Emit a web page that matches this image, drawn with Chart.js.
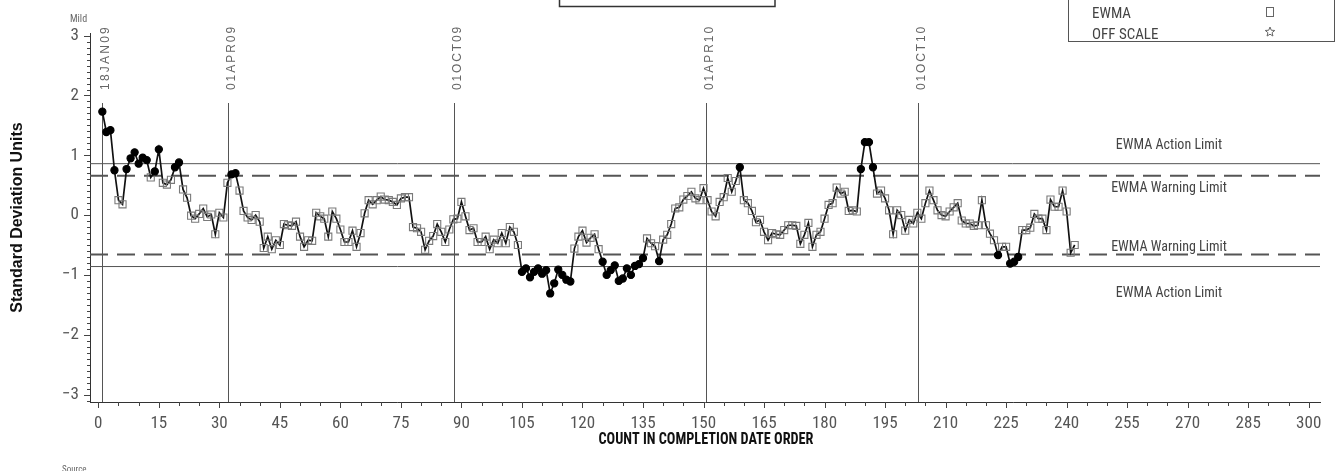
<!DOCTYPE html>
<html><head><meta charset="utf-8">
<script src="https://cdn.jsdelivr.net/npm/chart.js@4.4.0/dist/chart.umd.min.js"></script>
<style>html,body{margin:0;padding:0;background:#fff;}#wrap{width:1338px;height:471px;}</style>
</head><body><div id="wrap"><canvas id="c" width="1338" height="471"></canvas></div>
<script>
// ---------- data ----------
const ewmaValues = [1.73,1.39,1.42,0.75,0.25,0.18,0.77,0.95,1.05,0.86,
0.96,0.92,0.63,0.73,1.10,0.54,0.51,0.59,0.80,0.88,
0.43,0.29,-0.01,-0.06,0.02,0.11,-0.03,0.01,-0.32,0.04,
-0.04,0.54,0.68,0.70,0.41,0.07,-0.04,-0.08,0.00,-0.11,
-0.55,-0.36,-0.57,-0.42,-0.50,-0.15,-0.17,-0.18,-0.11,-0.36,
-0.53,-0.42,-0.43,0.04,-0.02,-0.06,-0.36,0.06,-0.06,-0.24,
-0.45,-0.45,-0.26,-0.53,-0.30,0.03,0.25,0.18,0.25,0.31,
0.26,0.25,0.22,0.17,0.28,0.30,0.30,-0.20,-0.22,-0.28,
-0.58,-0.43,-0.35,-0.15,-0.28,-0.45,-0.24,-0.07,-0.06,0.22,
-0.02,-0.25,-0.22,-0.45,-0.45,-0.36,-0.57,-0.41,-0.47,-0.30,
-0.47,-0.20,-0.28,-0.50,-0.95,-0.89,-1.04,-0.95,-0.89,-0.98,
-0.92,-1.31,-1.14,-0.91,-1.00,-1.08,-1.11,-0.56,-0.36,-0.26,
-0.46,-0.38,-0.32,-0.57,-0.78,-1.00,-0.92,-0.84,-1.10,-1.06,
-0.89,-1.00,-0.85,-0.82,-0.72,-0.39,-0.47,-0.52,-0.77,-0.41,
-0.33,-0.15,0.11,0.13,0.26,0.32,0.39,0.28,0.25,0.45,
0.25,0.06,-0.02,0.22,0.30,0.62,0.39,0.57,0.80,0.25,
0.20,0.07,-0.12,-0.08,-0.28,-0.42,-0.30,-0.32,-0.33,-0.25,
-0.17,-0.17,-0.18,-0.48,-0.33,-0.13,-0.53,-0.33,-0.28,-0.06,
0.17,0.20,0.46,0.36,0.39,0.07,0.08,0.06,0.77,1.22,
1.22,0.80,0.36,0.41,0.28,0.08,-0.32,0.08,0.00,-0.26,
-0.08,-0.14,0.04,-0.06,0.20,0.41,0.25,0.08,0.00,-0.02,
0.06,0.13,0.20,-0.09,-0.14,-0.14,-0.18,-0.17,0.25,-0.17,
-0.31,-0.42,-0.67,-0.53,-0.53,-0.81,-0.78,-0.70,-0.25,-0.25,
-0.21,0.02,-0.06,-0.06,-0.25,0.26,0.14,0.14,0.41,0.06,
-0.63,-0.50];
const counts = ewmaValues.map((v, i) => i + 1);
const xTicks = [0,15,30,45,60,75,90,105,120,135,150,165,180,195,210,225,240,255,270,285,300];
const yTicks = [-3,-2,-1,0,1,2,3];
const xMin = -2.06, xMax = 302.8;
const yMin = -3.125, yMax = 3.045;
const actionLimit = 0.86;
const warningLimit = 0.66;
const refDates = ['18JAN09','01APR09','01OCT09','01APR10','01OCT10'];
const refCounts = [1, 32.2, 88.2, 150.7, 203.2];
const limitLabels = ['EWMA Action Limit','EWMA Warning Limit','EWMA Warning Limit','EWMA Action Limit'];
const legendLabels = ['EWMA','OFF SCALE'];
const yTitle = 'Standard Deviation Units';
const xTitle = 'COUNT IN COMPLETION DATE ORDER';

// ---------- helpers ----------
const NARROW = "'Liberation Sans Narrow','Roboto Condensed','DejaVu Sans Condensed','Liberation Sans',sans-serif";
const SANS = "'Liberation Sans',Arial,sans-serif";
const isOut = v => Math.abs(v) > warningLimit;
const ewmaPoints = counts.map((c, i) => ({x: c, y: ewmaValues[i]}));
const hLine = v => [{x: xMin, y: v}, {x: xMax, y: v}];

const decor = {
  id: 'decor',
  beforeDatasetsDraw(chart) {
    const {ctx, chartArea, scales: {x}} = chart;
    ctx.save();
    ctx.strokeStyle = '#555'; ctx.lineWidth = 1;
    refCounts.forEach(c => {
      const px = Math.round(x.getPixelForValue(c)) + 0.5;
      ctx.beginPath(); ctx.moveTo(px, chartArea.top + 70); ctx.lineTo(px, chartArea.bottom); ctx.stroke();
    });
    ctx.restore();
  },
  afterDraw(chart) {
    const {ctx, chartArea, scales: {x, y}} = chart;
    ctx.save();
    // y ticks
    ctx.strokeStyle = '#444'; ctx.lineWidth = 1;
    const L = chartArea.left;
    for (let k = Math.ceil(yMin * 10); k <= Math.floor(yMax * 10); k++) {
      const py = Math.round(y.getPixelForValue(k / 10)) + 0.5;
      const len = (k % 10 === 0) ? 6 : 3;
      ctx.beginPath(); ctx.moveTo(L - len, py); ctx.lineTo(L, py); ctx.stroke();
    }
    // x ticks
    const B = chartArea.bottom;
    for (let v = 0; v <= 300; v += 5) {
      const px = Math.round(x.getPixelForValue(v)) + 0.5;
      const len = (v % 15 === 0) ? 6 : 4;
      ctx.beginPath(); ctx.moveTo(px, B); ctx.lineTo(px, B + len); ctx.stroke();
    }
    // date labels
    ctx.fillStyle = '#666';
    ctx.font = "12px " + SANS;
    ctx.textAlign = 'left'; ctx.textBaseline = 'middle';
    refDates.forEach((d, i) => {
      const px = x.getPixelForValue(refCounts[i]);
      ctx.save();
      ctx.translate(px + 3.5, 90);
      ctx.rotate(-Math.PI / 2);
      const w = ctx.measureText(d).width;
      ctx.letterSpacing = ((65 - w) / d.length).toFixed(2) + 'px';
      ctx.fillText(d, 0, 0);
      ctx.restore();
    });
    // limit labels
    ctx.fillStyle = '#444';
    ctx.font = "14px " + NARROW;
    ctx.textAlign = 'center'; ctx.textBaseline = 'middle';
    const lx = 1169;
    ctx.fillText(limitLabels[0], lx, y.getPixelForValue(actionLimit) - 18, 118);
    ctx.fillText(limitLabels[1], lx, y.getPixelForValue(warningLimit) + 13, 118);
    ctx.fillText(limitLabels[2], lx, y.getPixelForValue(-warningLimit) - 7, 118);
    ctx.fillText(limitLabels[3], lx, y.getPixelForValue(-actionLimit) + 27, 118);
    // axis titles
    ctx.fillStyle = '#111';
    ctx.font = "bold 16px " + SANS;
    ctx.save();
    ctx.translate(18, (chartArea.top + chartArea.bottom) / 2);
    ctx.rotate(-Math.PI / 2);
    ctx.fillText(yTitle, 0, 0);
    ctx.restore();
    ctx.font = "bold 17px " + NARROW;
    ctx.fillText(xTitle, 706, 440, 215);
    // small texts
    ctx.fillStyle = '#666';
    ctx.textAlign = 'left';
    ctx.font = "10px " + NARROW;
    ctx.fillText('Mild', 70, 19);
    ctx.font = "9px " + NARROW;
    ctx.fillText('Source', 62, 470);
    // title box (cut off at top)
    ctx.strokeStyle = '#333'; ctx.lineWidth = 1.5;
    ctx.strokeRect(559.5, -5, 215.5, 11.5);
    // legend box
    ctx.lineWidth = 1; ctx.strokeStyle = '#555';
    ctx.strokeRect(1068.5, -5, 266, 46.5);
    ctx.fillStyle = '#444';
    ctx.font = "15px " + NARROW;
    ctx.textBaseline = 'middle';
    ctx.fillText(legendLabels[0], 1092, 14);
    ctx.fillText(legendLabels[1], 1092, 35);
    ctx.strokeStyle = '#666';
    ctx.strokeRect(1266.5, 7.5, 7, 9);
    // star
    ctx.beginPath();
    const cx = 1270, cy = 32, ro = 5, ri = 2.2;
    for (let k = 0; k < 10; k++) {
      const r = k % 2 ? ri : ro;
      const a = -Math.PI / 2 + k * Math.PI / 5;
      const px = cx + r * Math.cos(a), py = cy + r * Math.sin(a);
      k ? ctx.lineTo(px, py) : ctx.moveTo(px, py);
    }
    ctx.closePath(); ctx.stroke();
    ctx.restore();
  }
};

new Chart(document.getElementById('c'), {
  type: 'line',
  data: {
    datasets: [
      {
        label: 'EWMA', data: ewmaPoints, order: 0,
        borderColor: '#111', borderWidth: 1.7, tension: 0,
        pointStyle: c => isOut(c.raw.y) ? 'circle' : 'rect',
        pointRadius: c => isOut(c.raw.y) ? 3.6 : 5,
        pointBackgroundColor: c => isOut(c.raw.y) ? '#000' : 'rgba(0,0,0,0)',
        pointBorderColor: c => isOut(c.raw.y) ? '#000' : '#7a7a7a',
        pointBorderWidth: 1.1
      },
      {label: 'ua', data: hLine(actionLimit), order: 2, borderColor: '#555', borderWidth: 1, pointRadius: 0},
      {label: 'la', data: hLine(-actionLimit), order: 2, borderColor: '#555', borderWidth: 1, pointRadius: 0},
      {label: 'uw', data: hLine(warningLimit), order: 2, borderColor: '#555', borderWidth: 2, borderDash: [18, 9], pointRadius: 0},
      {label: 'lw', data: hLine(-warningLimit), order: 2, borderColor: '#555', borderWidth: 2, borderDash: [18, 9], pointRadius: 0}
    ]
  },
  options: {
    responsive: false, animation: false, devicePixelRatio: 1,
    layout: {padding: {top: 33, right: 18, left: 0, bottom: 0}},
    plugins: {legend: {display: false}, tooltip: {enabled: false}},
    scales: {
      x: {
        type: 'linear', min: xMin, max: xMax,
        afterBuildTicks: s => { s.ticks = xTicks.map(v => ({value: v})); },
        afterFit: s => { s.height = 69; },
        grid: {display: false, drawTicks: false},
        border: {display: true, color: '#333', width: 1},
        ticks: {padding: 12, color: '#555', font: {family: NARROW, size: 17}, maxRotation: 0, autoSkip: false}
      },
      y: {
        type: 'linear', min: yMin, max: yMax,
        afterBuildTicks: s => { s.ticks = yTicks.map(v => ({value: v})); },
        afterFit: s => { s.width = 90; },
        grid: {display: false, drawTicks: false},
        border: {display: true, color: '#333', width: 1},
        ticks: {padding: 11, color: '#555', font: {family: NARROW, size: 17},
          callback: v => (v < 0 ? '\u2212' + Math.abs(v) : String(v))}
      }
    }
  },
  plugins: [decor]
});
</script></body></html>
